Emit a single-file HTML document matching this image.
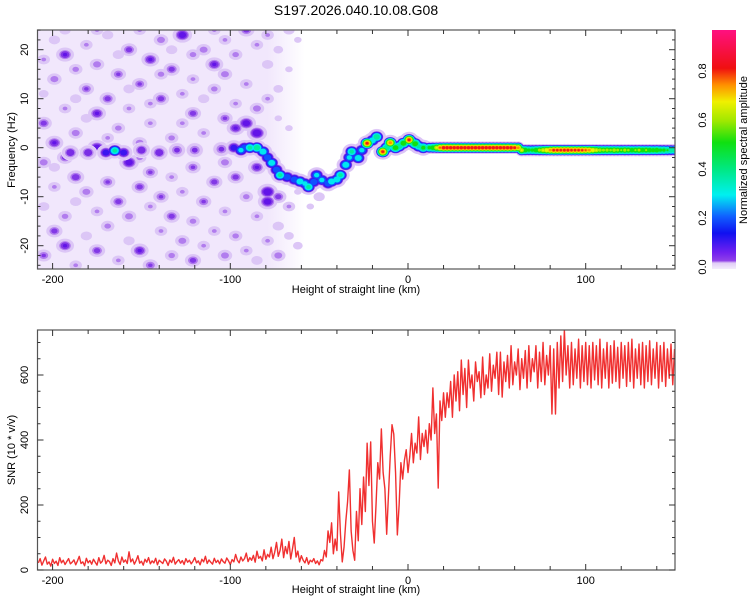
<!DOCTYPE html>
<html><head><meta charset="utf-8"><style>
body{margin:0;background:#fff;}
svg text{font-family:"Liberation Sans",sans-serif;fill:#000;}
</style></head><body>
<svg id="chart" width="750" height="600" viewBox="0 0 750 600" xmlns="http://www.w3.org/2000/svg">
<defs>
<clipPath id="clipTop"><rect x="38" y="30" width="637" height="239"/></clipPath>
<clipPath id="clipBot"><rect x="38" y="330" width="637" height="240"/></clipPath>
<linearGradient id="floorGrad" x1="0" y1="0" x2="1" y2="0">
<stop offset="0" stop-color="#f1e7fc"/>
<stop offset="0.86" stop-color="#f1e7fc"/>
<stop offset="1" stop-color="#f1e7fc" stop-opacity="0"/>
</linearGradient>
<linearGradient id="cbGrad" x1="0" y1="1" x2="0" y2="0">
<stop offset="0" stop-color="#f4ecfc"/>
<stop offset="0.025" stop-color="#e0ccf6"/>
<stop offset="0.035" stop-color="#9040e8"/>
<stop offset="0.07" stop-color="#7020f0"/>
<stop offset="0.15" stop-color="#1010f0"/>
<stop offset="0.22" stop-color="#1060ff"/>
<stop offset="0.31" stop-color="#00f0f0"/>
<stop offset="0.42" stop-color="#00e880"/>
<stop offset="0.53" stop-color="#10e010"/>
<stop offset="0.62" stop-color="#a0e800"/>
<stop offset="0.70" stop-color="#f0f000"/>
<stop offset="0.77" stop-color="#ff9000"/>
<stop offset="0.84" stop-color="#f01010"/>
<stop offset="1" stop-color="#ff1080"/>
</linearGradient>
</defs>
<text x="356" y="15" font-size="14" text-anchor="middle">S197.2026.040.10.08.G08</text>
<g id="topMarks" clip-path="url(#clipTop)"></g>
<g id="botMarks" clip-path="url(#clipBot)"></g>
<g id="axes"></g>
<rect x="712" y="30" width="24" height="239" fill="url(#cbGrad)"/>
<text transform="translate(747,150) rotate(-90)" font-size="11" text-anchor="middle">Normalized spectral amplitude</text>
<text x="356" y="293" font-size="11" text-anchor="middle">Height of straight line (km)</text>
<text transform="translate(15,150) rotate(-90)" font-size="11" text-anchor="middle">Frequency (Hz)</text>
<text x="356" y="593" font-size="11" text-anchor="middle">Height of straight line (km)</text>
<text transform="translate(15,450) rotate(-90)" font-size="11" text-anchor="middle">SNR (10 * v/v)</text>
</svg>
<script>
// ---- data ----
const xTicks = [-200, -100, 0, 100];
const freqTicks = [-20, -10, 0, 10, 20];
const snrTicks = [0, 200, 400, 600];
const cbTicks = [0.0, 0.2, 0.4, 0.6, 0.8];
const snrStart = -208;
const snrValues = [
22,35,15,28,40,18,25,12,33,20,
27,14,38,22,30,17,26,35,19,24,
31,16,28,42,20,25,13,36,22,29,
18,33,24,15,38,21,27,45,19,30,
26,14,35,22,52,28,17,40,24,31,
20,56,25,34,18,29,44,21,27,15,
33,24,38,19,28,22,36,16,30,25,
20,34,27,14,31,23,39,18,26,32,
21,29,17,35,24,30,19,27,38,22,
28,16,33,25,42,20,31,24,18,36,
23,30,19,34,26,21,37,28,17,32,
25,48,30,22,40,28,35,52,26,38,
30,45,24,58,36,42,28,62,33,48,
40,70,35,55,85,42,60,95,38,72,
50,88,34,65,100,40,58,25,44,30,
22,38,18,30,25,35,20,28,16,32,
28,60,40,120,85,145,50,95,60,240,
110,25,70,150,210,308,120,60,30,180,
90,250,140,286,180,390,260,394,150,83,
200,330,280,434,300,250,110,230,350,447,
418,300,108,200,330,280,338,370,300,350,
420,330,390,360,471,340,420,380,430,360,
450,400,560,420,480,252,520,460,545,470,
545,500,580,470,600,520,610,490,646,540,
620,500,646,560,600,520,640,580,610,530,
655,540,600,560,665,550,630,590,670,540,
670,532,640,580,660,560,690,570,640,600,
680,555,650,590,675,560,690,580,650,610,
690,560,670,580,700,570,660,600,690,480,
680,480,700,560,720,580,738,600,690,560,
700,570,680,590,710,560,690,580,700,570,
690,560,700,585,690,570,710,560,680,590,
700,560,690,575,705,580,685,560,700,590,
690,565,700,580,710,560,680,590,695,570,
700,560,690,580,705,570,680,590,700,560,
690,580,700,565,680,590,695,570,680];
const noiseBlobs = [
[-205,18,.06],[-205,5,.1],[-205,-3,.08],[-205,-12,.05],[-205,-22,.09],[-205,11,.04],
[-199,22,.05],[-199,14,.08],[-199,1,.12],[-199,-8,.06],[-199,-17,.1],[-199,-4,.05],
[-193,19,.12],[-193,8,.06],[-193,-2,.1],[-193,-14,.07],[-193,-20,.12],[-193,24,.05],
[-187,16,.07],[-187,3,.08],[-187,-6,.11],[-187,-11,.05],[-187,-24,.06],[-187,10,.05],
[-181,21,.06],[-181,12,.09],[-181,-1,.1],[-181,-9,.08],[-181,-18,.05],[-181,6,.05],
[-175,17,.08],[-175,7,.12],[-175,0,.14],[-175,-13,.06],[-175,-21,.1],[-175,24,.06],
[-169,23,.05],[-169,10,.1],[-169,-7,.09],[-169,-16,.07],[-169,2,.06],
[-163,15,.09],[-163,4,.07],[-163,-11,.1],[-163,-23,.06],[-163,19,.05],
[-157,20,.1],[-157,8,.06],[-157,-3,.14],[-157,-14,.08],[-157,-19,.05],[-157,12,.05],
[-151,24,.06],[-151,13,.09],[-151,1,.08],[-151,-8,.1],[-151,-21,.12],[-151,-2,.07],
[-145,18,.12],[-145,5,.06],[-145,-5,.09],[-145,-12,.06],[-145,-24,.09],[-145,9,.06],
[-139,22,.08],[-139,10,.1],[-139,-10,.09],[-139,-17,.06],[-139,15,.07],
[-133,16,.1],[-133,2,.07],[-133,-6,.06],[-133,-14,.1],[-133,-22,.07],[-133,20,.05],
[-127,23,.14],[-127,11,.06],[-127,-9,.06],[-127,-19,.08],[-127,5,.06],
[-121,14,.06],[-121,7,.1],[-121,-4,.09],[-121,-15,.07],[-121,-23,.1],[-121,19,.07],
[-115,20,.08],[-115,3,.06],[-115,-11,.09],[-115,-20,.06],[-115,10,.05],
[-109,17,.12],[-109,12,.07],[-109,-7,.1],[-109,-17,.06],[-109,24,.06],
[-103,22,.06],[-103,6,.09],[-103,-3,.08],[-103,-13,.06],[-103,-22,.08],[-103,15,.08],
[-97,19,.07],[-97,9,.06],[-97,4,.12],[-97,-6,.1],[-97,-18,.07],
[-91,24,.1],[-91,13,.06],[-91,5,.14],[-91,-10,.07],[-91,-21,.06],
[-85,21,.06],[-85,8,.08],[-85,3,.15],[-85,-4,.12],[-85,-14,.06],[-85,-23,.05],
[-79,17,.05],[-79,10,.06],[-79,-9,.15],[-79,-11,.14],[-79,-19,.06],[-79,23,.06],
[-73,20,.04],[-73,12,.04],[-73,-10,.1],[-73,-16,.05],[-73,-22,.08],[-73,6,.03],
[-67,24,.05],[-67,16,.03],[-67,-12,.06],[-67,-18,.04],[-67,4,.03],[-67,-6,.03],
[-62,22,.03],[-62,8,.02],[-62,-20,.04],[-62,-9,.03],[-55,-12,.03],[-50,-10,.05],[-45,-14,.02]];
const ridgeBlobs = [
[-190,-1,.15],[-180,-1,.15],[-170,-1,.2],[-165,-0.6,.45],[-160,-1,.2],[-150,-0.5,.15],
[-140,-1,.15],[-130,-0.5,.12],[-120,-0.5,.12],[-105,-0.3,.12],[-98,0,.2],[-94,-0.5,.35],
[-92,0,.3],[-89,0,.45],[-85,0,.5],[-81.6,-0.8,.4],[-79,-2,.3],[-76.7,-3.1,.4],[-74,-4.5,.3],
[-72,-5.6,.45],[-68,-6,.3],[-64,-6.5,.3],[-60.8,-6.9,.4],[-58,-7.3,.35],[-56,-8,.45],
[-53,-7,.3],[-51.4,-5.6,.35],[-48.5,-6.6,.35],[-45,-7.3,.3],[-43,-6.9,.4],[-40,-6.5,.4],
[-38,-5.6,.45],[-35,-3.5,.4],[-33,-2,.35],[-31.7,-0.8,.45],[-28,-2.1,.4],[-26,-0.5,.35],
[-23,0.9,.85],[-20,1.5,.4],[-17.6,2.2,.5],[-14.2,-0.8,.85],[-12,0,.5],[-10,1,.8],[-7,0,.6],
[-5,0.3,.5],[-2.6,0.9,.6],[0.6,1.6,.85],[2,1.2,.5],[4,0.8,.6],[6,0.3,.45],[8.6,0,.55]];
const bandX = [12,14,16,18,20,22,24,26,28,30,32,34,36,38,40,42,44,46,48,50,52,54,56,58,60,62,64,66,68,70,72,74,76,78,80,82,84,86,88,90,92,94,96,98,100,102,104,106,108,110,112,114,116,118,120,122,124,126,128,130,132,134,136,138,140,142,144,146,148,150];
const bandF = [0,0,0,0,0,0,0,0,0,0,0,0,0,0,0,0,0,0,0,0,0,0,0,0,0,0,-0.5,-0.5,-0.5,-0.5,-0.5,-0.5,-0.5,-0.5,-0.5,-0.5,-0.5,-0.5,-0.5,-0.5,-0.5,-0.5,-0.5,-0.5,-0.5,-0.5,-0.5,-0.5,-0.5,-0.5,-0.5,-0.5,-0.5,-0.5,-0.5,-0.5,-0.5,-0.5,-0.5,-0.5,-0.5,-0.5,-0.5,-0.5,-0.5,-0.5,-0.5,-0.5,-0.5,-0.5];
const bandA = [.55,.6,.7,.82,.88,.88,.88,.88,.88,.88,.88,.88,.88,.88,.88,.88,.88,.88,.88,.88,.88,.88,.88,.88,.86,.8,.7,.6,.55,.55,.6,.65,.7,.75,.8,.85,.85,.85,.86,.86,.85,.85,.85,.84,.82,.8,.75,.7,.66,.64,.65,.63,.66,.64,.62,.65,.63,.6,.62,.64,.6,.62,.6,.58,.6,.55,.55,.52,.5,.5];

const xS = km => 408 + km * 1.777;
const fS = f => 147.7 - f * 4.9;
const sS = v => 570 - v * 0.325;
const cS = v => 267 - v * 245;

const NS = 'http://www.w3.org/2000/svg';
function mk(tag, parent, attrs) {
  const e = document.createElementNS(NS, tag);
  for (const k in attrs) e.setAttribute(k, attrs[k]);
  parent.appendChild(e);
  return e;
}
const levels = [0.01,0.03,0.06,0.1,0.15,0.22,0.3,0.4,0.5,0.6,0.68,0.75,0.81];
const levelColors = ['#efe4fb','#dcc4f6','#b585ee','#7a2ce6','#3a14f0','#1050ff','#00e8f0','#00eea0','#10e010','#a8ea00','#f0f000','#ff9000','#f01818'];
const noiseLevels = [0.02,0.05,0.08,0.11];
const noiseColors = ['#dcc6f6','#b17cee','#8238e6','#6214e8'];

const topG = document.getElementById('topMarks');
const floorR = mk('rect', topG, {x: xS(-210), y: 30, width: xS(-58) - xS(-210), height: 239, fill: 'url(#floorGrad)'});


noiseLevels.forEach((l, li) => {
  noiseBlobs.forEach(b => {
    if (b[2] <= l) return;
    const s = 0.6 + 4 * b[2];
    const k = Math.sqrt(1 - l / b[2]) * (li === 0 ? 1.3 : 1);
    const e = mk('ellipse', topG, {cx: xS(b[0]), cy: fS(b[1]), rx: 7 * s * k, ry: 5.5 * s * k, fill: noiseColors[li]});
    
    
  });
});
const groups = [
  {blobs: ridgeBlobs, rx: 7, ry: 6, halo: 1.35},
  {blobs: bandX.map((x, i) => [x, bandF[i], bandA[i]]), rx: 6, ry: 5.5, halo: 1.15}
];
levels.forEach((l, li) => {
  groups.forEach(g => {
    g.blobs.forEach(b => {
      if (b[2] <= l) return;
      let k = Math.sqrt(1 - l / b[2]);
      if (l < 0.05) k *= g.halo;
      const e = mk('ellipse', topG, {cx: xS(b[0]), cy: fS(b[1]), rx: g.rx * k, ry: g.ry * k, fill: levelColors[li]});
      
      
    });
  });
});

const botG = document.getElementById('botMarks');
const pts = snrValues.map((v, i) => xS(snrStart + i).toFixed(2) + ',' + sS(v).toFixed(2)).join(' ');
const line = mk('polyline', botG, {points: pts, fill: 'none', stroke: '#f03030', 'stroke-width': 1.4, 'stroke-linejoin': 'round'});



const ax = document.getElementById('axes');
function frame(y0, y1, name) {
  const r = mk('rect', ax, {x: 37.5, y: y0, width: 637.5, height: y1 - y0, fill: 'none', stroke: '#555', 'stroke-width': 1.2});
  
  
  for (let km = -200; km <= 150; km += 20) {
    const x = xS(km), len = km % 100 === 0 ? 6 : 4;
    mk('line', ax, {x1: x, x2: x, y1: y1, y2: y1 - len, stroke: '#333'});
    mk('line', ax, {x1: x, x2: x, y1: y0, y2: y0 + len, stroke: '#333'});
  }
  xTicks.forEach(t => {
    const tx = mk('text', ax, {x: xS(t), y: y1 + 14, 'font-size': 11, 'text-anchor': 'middle'});
    tx.textContent = t;
    
    
  });
}
frame(30, 269, 'top-plot-frame');
frame(330, 570, 'bottom-plot-frame');
for (let f = -24; f <= 24; f += 2) {
  const y = fS(f), len = f % 10 === 0 ? 6 : 3;
  mk('line', ax, {x1: 37.5, x2: 37.5 + len, y1: y, y2: y, stroke: '#333'});
  mk('line', ax, {x1: 675, x2: 675 - len, y1: y, y2: y, stroke: '#333'});
}
freqTicks.forEach(t => {
  const tx = mk('text', ax, {transform: `translate(28,${fS(t)}) rotate(-90)`, 'font-size': 11, 'text-anchor': 'middle'});
  tx.textContent = t;
  
  
});
for (let v = 0; v <= 720; v += 50) {
  const y = sS(v), len = v % 200 === 0 ? 6 : 3;
  mk('line', ax, {x1: 37.5, x2: 37.5 + len, y1: y, y2: y, stroke: '#333'});
  mk('line', ax, {x1: 675, x2: 675 - len, y1: y, y2: y, stroke: '#333'});
}
snrTicks.forEach(t => {
  const tx = mk('text', ax, {transform: `translate(28,${sS(t)}) rotate(-90)`, 'font-size': 11, 'text-anchor': 'middle'});
  tx.textContent = t;
  
  
});
cbTicks.forEach(t => {
  const tx = mk('text', ax, {transform: `translate(706,${cS(t)}) rotate(-90)`, 'font-size': 11, 'text-anchor': 'middle'});
  tx.textContent = t.toFixed(1);
  
  
});
</script>
</body></html>
